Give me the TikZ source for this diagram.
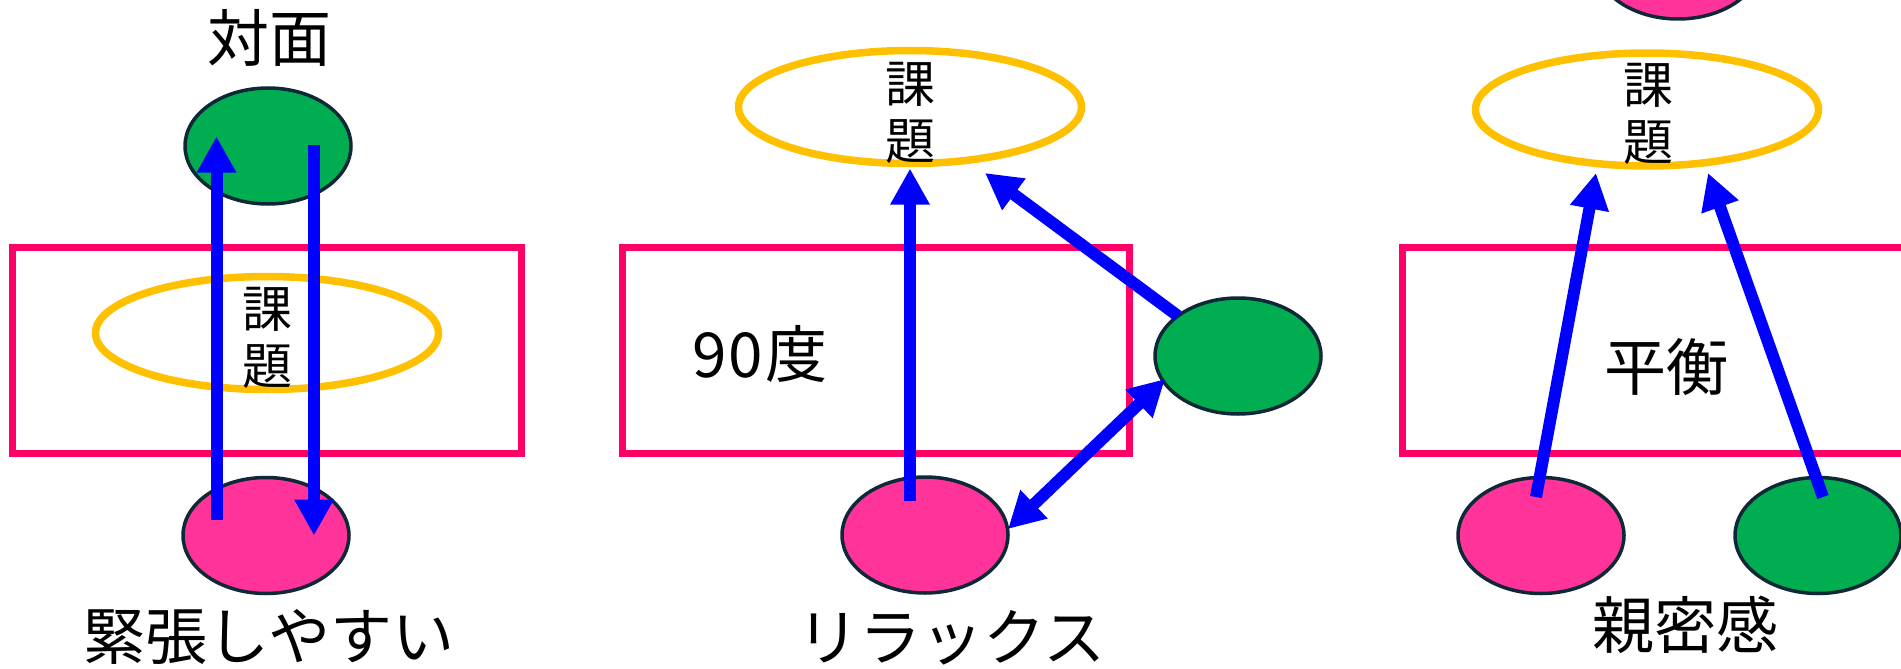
\documentclass[tikz,border=0pt]{standalone}
\usepackage{fontspec}
\setmainfont{Noto Sans CJK JP}
\usetikzlibrary{shapes.geometric,arrows.meta,calc}
\definecolor{cgreen}{RGB}{0,173,80}
\definecolor{cpink}{RGB}{255,51,153}
\definecolor{crect}{RGB}{255,0,102}
\definecolor{cyel}{RGB}{255,192,0}
\definecolor{cblue}{RGB}{0,0,255}
\definecolor{cdark}{RGB}{15,40,55}
\begin{document}
\begin{tikzpicture}[x=1pt,y=-1pt,
  person/.style={ellipse,draw=cdark,line width=3.5pt,minimum width=166pt,minimum height=116pt,inner sep=0pt},
  pgreen/.style={person,fill=cgreen},
  ppink/.style={person,fill=cpink},
  topic/.style={ellipse,draw=cyel,line width=7.5pt,minimum width=343pt,minimum height=113pt,inner sep=0pt},
  frame/.style={rectangle,draw=crect,line width=7pt,inner sep=0pt,minimum height=205.5pt},
  topictext/.style={font=\fontsize{50}{57}\selectfont,align=center,inner sep=0pt},
  lbl/.style={font=\fontsize{62}{70}\selectfont,inner sep=0pt},
  arr/.style={draw=cblue,line width=12pt,-{Triangle[width=37pt,length=36pt]}},
  darr/.style={draw=cblue,line width=12pt,{Triangle[width=37pt,length=36pt]}-{Triangle[width=37pt,length=36pt]}}
]
\useasboundingbox (0,0) rectangle (1901,669);

% ---------- panel 1 ----------
\node[frame,minimum width=509pt] (r1) at (267,350.5) {};
\node[topic] (y1) at (267,333) {};
\node[topictext] (k1) at (267.5,338) {課\\題};
\node[pgreen] (g1) at (268,146) {};
\node[ppink] (p1) at (266,535.5) {};
\node[lbl] (t1) at (269,38) {対面};
\node[lbl] (b1) at (269,637) {緊張しやすい};
\draw[arr] ($(p1.center)+(-49.5,-15.5)$) -- ($(g1.center)+(-51.5,-9.5)$);
\draw[arr] ($(g1.center)+(46,-1)$) -- ($(p1.center)+(48,0)$);

% ---------- panel 2 ----------
\node[frame,minimum width=506.5pt] (r2) at (876,350.5) {};
\node[topic] (y2) at (910,107) {};
\node[topictext] (k2) at (910,113) {課\\題};
\node[pgreen] (g2) at (1238,356) {};
\node[ppink] (p2) at (925,535) {};
\node[lbl] (n2) at (760,354) {9\kern2pt 0\kern2pt 度};
\node[lbl] (b2) at (951.5,638) {リラックス};
\draw[arr] ($(p2.center)+(-15,-34)$) -- ($(y2.center)+(0,61.5)$);
\draw[arr] ($(g2.center)+(-60,-40)$) -- ($(y2.center)+(75,66)$);
\draw[darr] ($(p2.center)+(83,-6)$) -- ($(g2.center)+(-73,23)$);

% ---------- panel 3 ----------
\node[frame,minimum width=600pt] (r3) at (1702.5,350.5) {};
\node[ppink] (p0) at (1678,-39) {};
\node[topic] (y3) at (1647,109.5) {};
\node[topictext] (k3) at (1648,114) {課\\題};
\node[ppink] (p3) at (1541,535.5) {};
\node[pgreen] (g3) at (1818,535.5) {};
\node[lbl] (n3) at (1666,366.5) {平衡};
\node[lbl] (b3) at (1685,625) {親密感};
\draw[arr] ($(p3.center)+(-5,-38.5)$) -- ($(y3.center)+(-51,63.5)$);
\draw[arr] ($(g3.center)+(5,-38.5)$) -- ($(y3.center)+(61,63.5)$);
\end{tikzpicture}
\end{document}
